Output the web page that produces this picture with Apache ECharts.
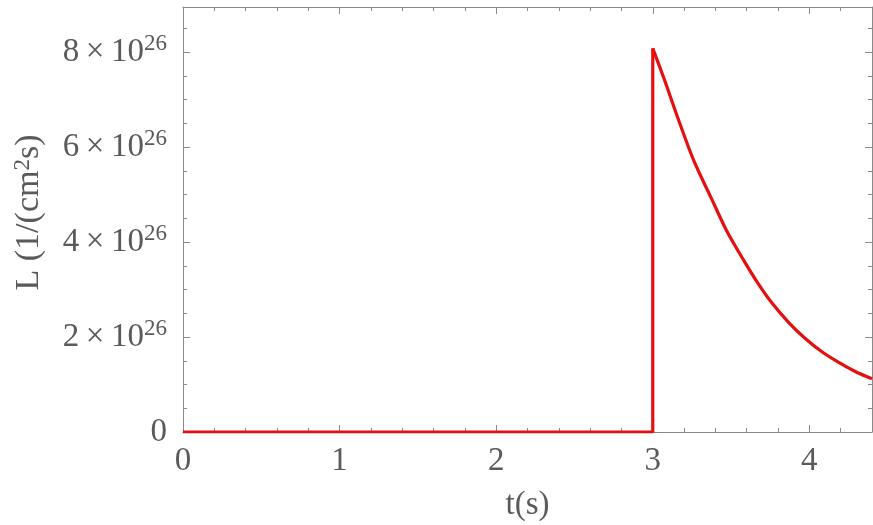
<!DOCTYPE html>
<html>
<head>
<meta charset="utf-8">
<script src="https://cdn.jsdelivr.net/npm/echarts@6/dist/echarts.min.js"></script>
<style>
  html, body { margin: 0; padding: 0; background: #fff; }
  #chart { width: 873px; height: 525px; }
</style>
</head>
<body>
<div id="chart"></div>
<script>
// flat part and the jump at t = 3 s
var stepT = [0, 3, 3];
var stepL = [0, 0, 8.08e26];

// decay after the jump
var decayT = [3.0, 3.07, 3.155, 3.26, 3.37, 3.47, 3.58, 3.67, 3.76, 3.87, 3.97, 4.08, 4.19, 4.29, 4.4];
var decayL = [8.08e26, 7.46e26, 6.66e26, 5.73e26, 4.95e26, 4.25e26, 3.62e26, 3.14e26, 2.72e26, 2.30e26, 1.98e26, 1.69e26, 1.46e26, 1.28e26, 1.12e26];

var xMax = 4.4;
var yMax = 8.95e26;

var stepData = stepT.map(function (t, i) { return [t, stepL[i]]; });
var decayData = decayT.map(function (t, i) { return [t, decayL[i]]; });

var grey = '#8a8a8a';
var textGrey = '#5a5a5a';
var serif = 'Liberation Serif';

function frameAxis(pos, interval, tickLen, showLine, max) {
    return {
        type: 'value',
        position: pos,
        min: 0,
        max: max,
        interval: interval,
        axisLine: { show: showLine, onZero: false, lineStyle: { color: grey, width: 1 } },
        axisTick: { show: true, inside: true, length: tickLen, lineStyle: { color: grey, width: 1 } },
        axisLabel: { show: false },
        splitLine: { show: false }
    };
}

var xMain = frameAxis('bottom', 1, 7, true, xMax);
xMain.axisLabel = {
    show: true,
    showMaxLabel: false,
    margin: 13,
    color: textGrey,
    fontFamily: serif,
    fontSize: 33
};
xMain.name = 't(s)';
xMain.nameLocation = 'middle';
xMain.nameGap = 57;
xMain.nameTextStyle = { color: textGrey, fontFamily: serif, fontSize: 33 };

var yMain = frameAxis('left', 2e26, 7, true, yMax);
yMain.axisLabel = {
    show: true,
    showMaxLabel: false,
    margin: 16,
    formatter: function (v) {
        if (v === 0) return '{a|0}';
        return '{a|' + Math.round(v / 1e26) + '\u2009×\u200910}{sup|26}';
    },
    rich: {
        a: { color: textGrey, fontFamily: serif, fontSize: 33, lineHeight: 40 },
        sup: { color: textGrey, fontFamily: serif, fontSize: 23, verticalAlign: 'top', lineHeight: 20 }
    }
};
yMain.name = '{a|L (1/(cm}{sup|2}{a|s)}';
yMain.nameLocation = 'middle';
yMain.nameGap = 136;
yMain.nameTextStyle = {
    padding: [0, 0, 0, 14],
    rich: {
        a: { color: textGrey, fontFamily: serif, fontSize: 34, lineHeight: 36 },
        sup: { color: textGrey, fontFamily: serif, fontSize: 23, verticalAlign: 'top', lineHeight: 22 }
    }
};

var option = {
    animation: false,
    backgroundColor: '#ffffff',
    grid: { left: 183, right: 1, top: 7, bottom: 93, containLabel: false, outerBoundsMode: 'none' },
    xAxis: [
        xMain,
        frameAxis('bottom', 0.2, 4, false, xMax),
        frameAxis('top', 1, 7, true, xMax),
        frameAxis('top', 0.2, 4, false, xMax)
    ],
    yAxis: [
        yMain,
        frameAxis('left', 0.5e26, 4, false, yMax),
        frameAxis('right', 2e26, 7, true, yMax),
        frameAxis('right', 0.5e26, 4, false, yMax)
    ],
    series: [
        {
            type: 'line',
            data: stepData,
            showSymbol: false,
            lineStyle: { color: '#e60f0f', width: 3.2 },
            clip: true
        },
        {
            type: 'line',
            data: decayData,
            showSymbol: false,
            smooth: 0.3,
            lineStyle: { color: '#e60f0f', width: 3.2 },
            clip: true
        }
    ]
};

var chart = echarts.init(document.getElementById('chart'), null, { renderer: 'canvas' });
chart.setOption(option);
</script>
</body>
</html>
